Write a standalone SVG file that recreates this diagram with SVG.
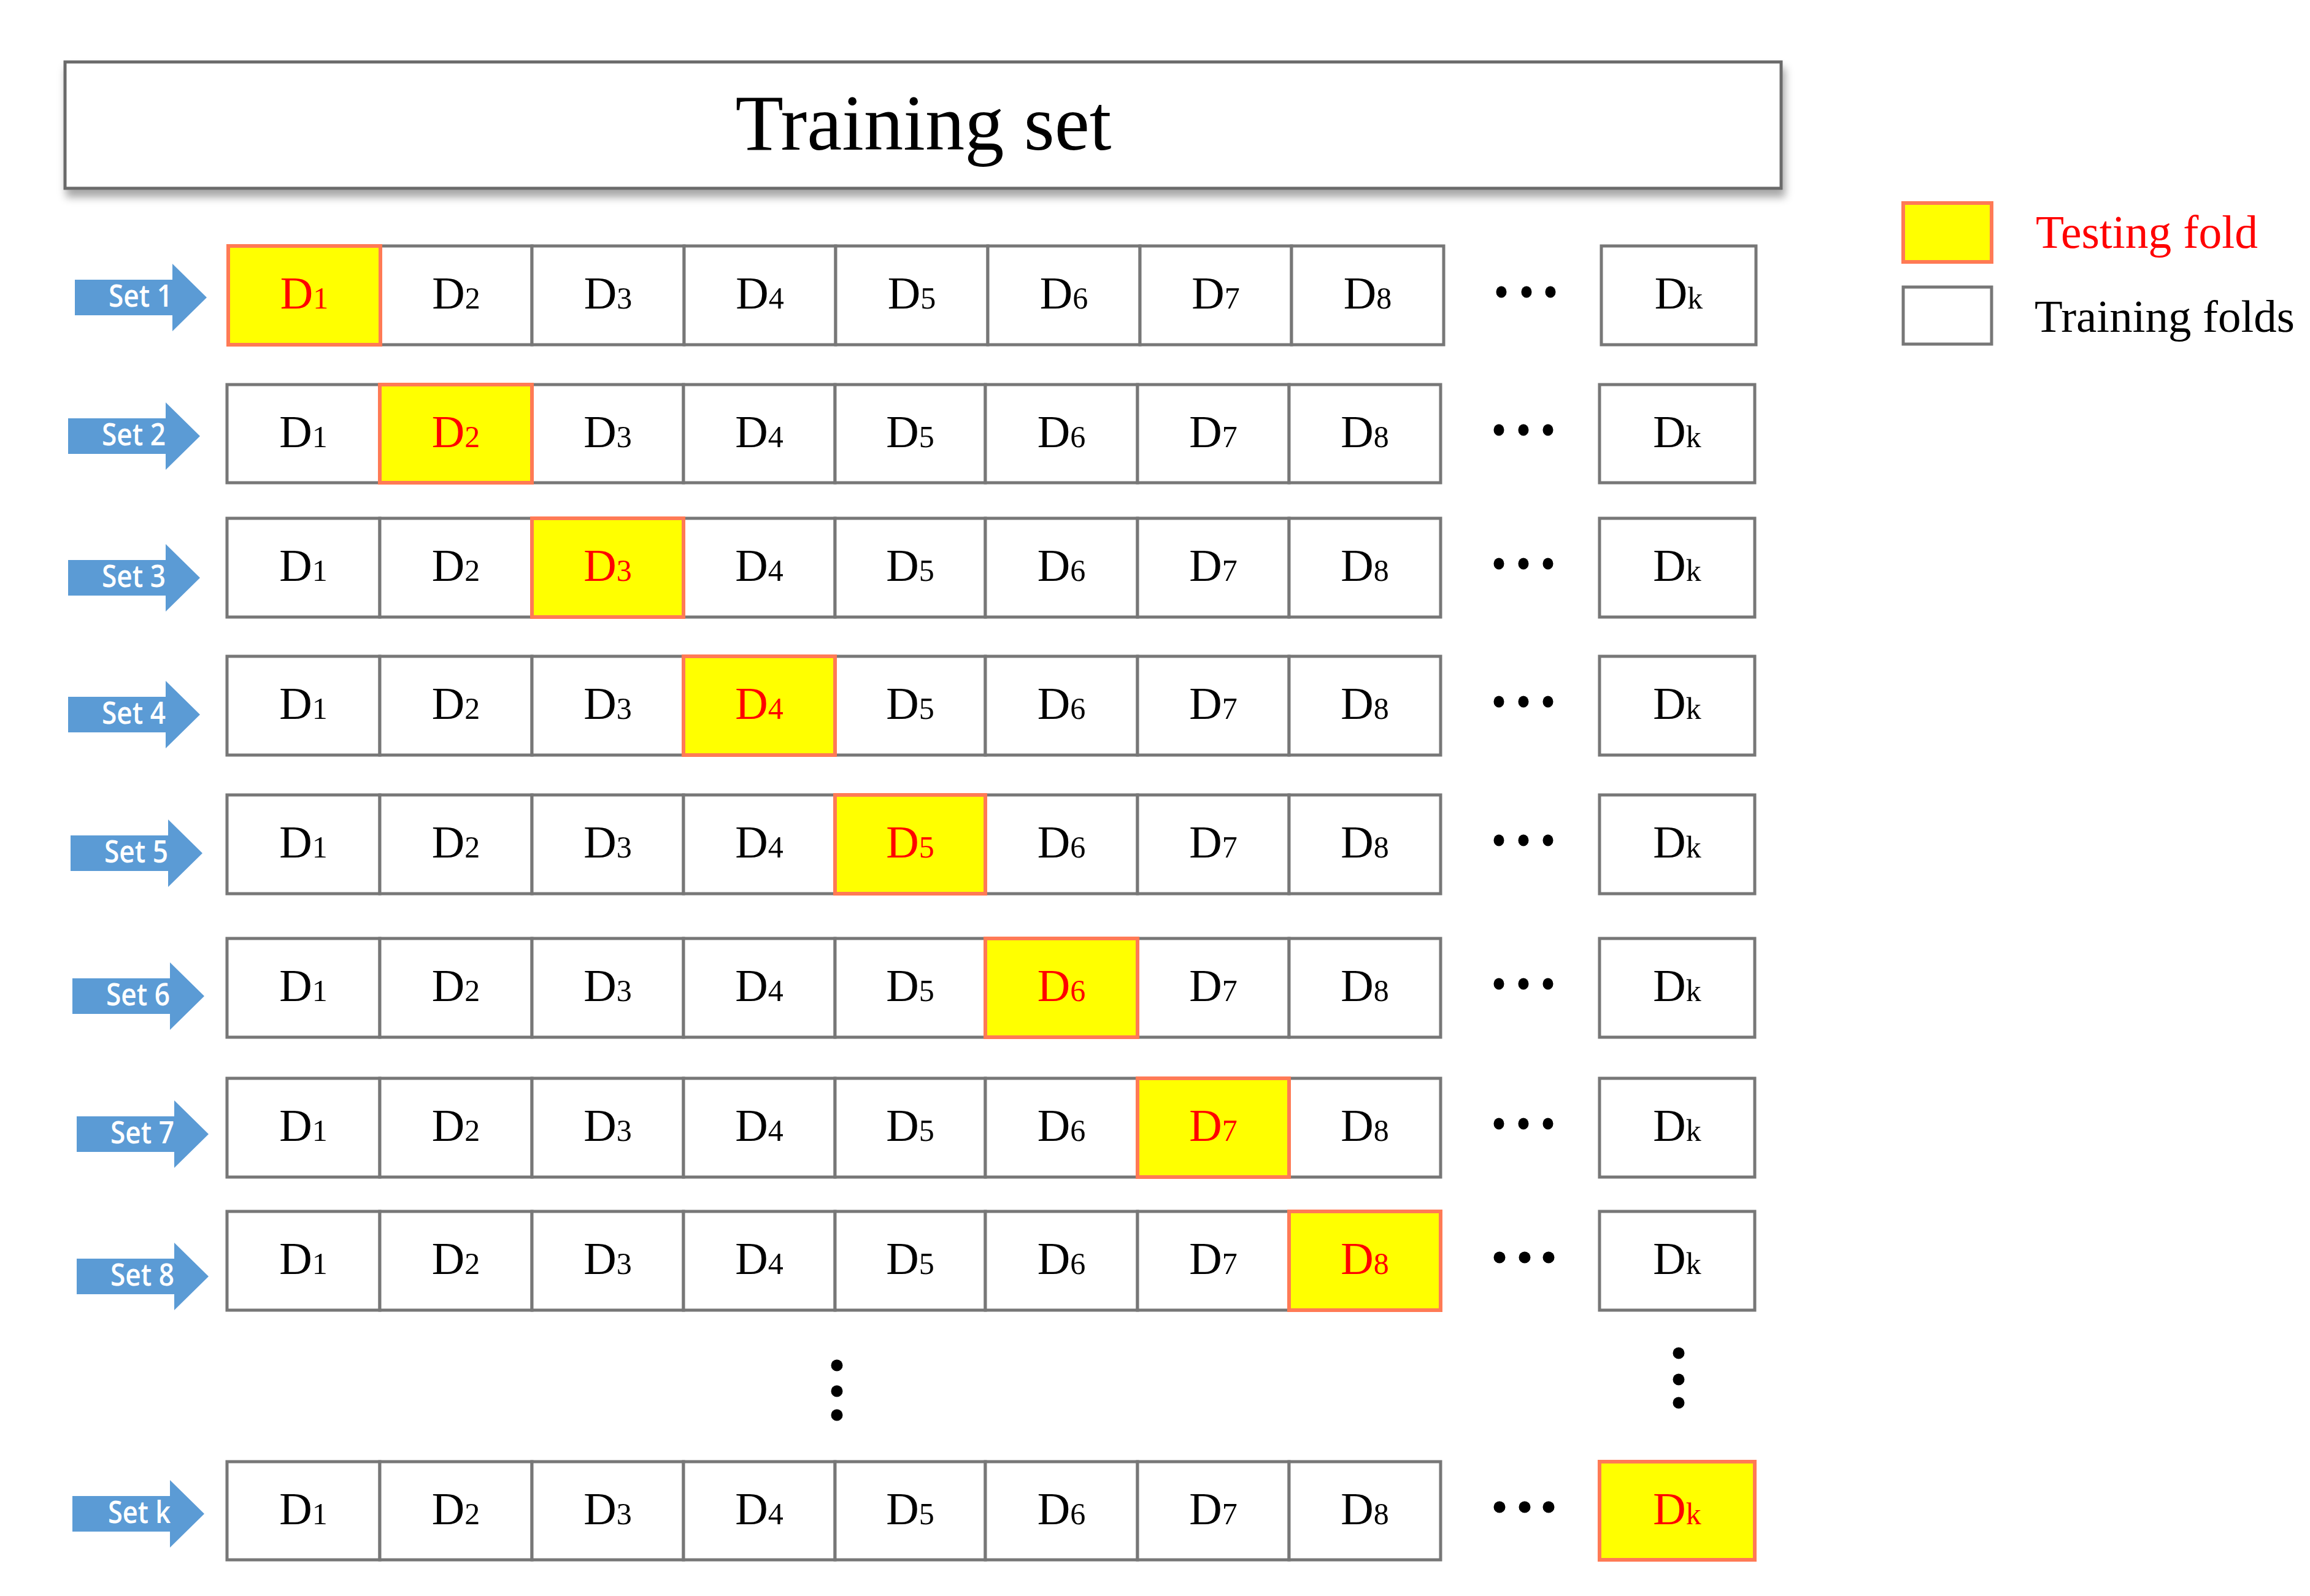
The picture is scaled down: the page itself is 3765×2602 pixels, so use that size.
<svg xmlns="http://www.w3.org/2000/svg" xmlns:xlink="http://www.w3.org/1999/xlink" width="3765" height="2602" viewBox="0 0 3765 2602">
<style>
.c{fill:#fff;stroke:#777;stroke-width:5}
.t{fill:#ffff00;stroke:#ff7a55;stroke-width:6}
.d{font-family:"Liberation Serif","Times New Roman",serif;font-size:74px;text-anchor:middle;fill:#000}
.dr{fill:#ff0000}
.s{font-size:50px}
.set{font-family:"Open Sans","Liberation Sans",sans-serif;font-size:50px;font-weight:600;fill:#fff;text-anchor:end}
.arr{fill:#5b9bd5}
.dot{fill:#000}
</style>
<defs>
<filter id="sh" x="-5%" y="-20%" width="110%" height="150%">
<feDropShadow dx="4" dy="12" stdDeviation="7" flood-color="#000" flood-opacity="0.35"/>
</filter>
<path id="arrow" d="M0,-29 H159 V-55 L215,0 L159,55 V29 H0 Z"/>
</defs>
<rect width="3765" height="2602" fill="#fff"/>

<g id="title">
<rect x="106" y="101" width="2797" height="206" fill="#fff" stroke="#6b6b6b" stroke-width="5" filter="url(#sh)"/>
<text x="1505" y="244" font-family="Liberation Serif, Times New Roman, serif" font-size="130" text-anchor="middle" textLength="613" lengthAdjust="spacingAndGlyphs">Training set</text>
</g>

<g id="legend">
<g id="legend-testing">
<rect class="t" x="3102" y="331" width="144" height="96"/>
<text x="3318" y="404" font-family="Liberation Serif, Times New Roman, serif" font-size="76" fill="#ff0000" textLength="362" lengthAdjust="spacingAndGlyphs">Testing fold</text>
</g>
<g id="legend-training">
<rect class="c" x="3102" y="468" width="144" height="93"/>
<text x="3316" y="541" font-family="Liberation Serif, Times New Roman, serif" font-size="75" fill="#000" textLength="424" lengthAdjust="spacingAndGlyphs">Training folds</text>
</g>
</g>

<g id="set-labels">
<g id="set1"><use href="#arrow" class="arr" x="122" y="485"/><text class="set" x="281" y="500" textLength="104" lengthAdjust="spacingAndGlyphs">Set 1</text></g>
<g id="set2"><use href="#arrow" class="arr" x="111" y="711"/><text class="set" x="270" y="726" textLength="104" lengthAdjust="spacingAndGlyphs">Set 2</text></g>
<g id="set3"><use href="#arrow" class="arr" x="111" y="942"/><text class="set" x="270" y="957" textLength="104" lengthAdjust="spacingAndGlyphs">Set 3</text></g>
<g id="set4"><use href="#arrow" class="arr" x="111" y="1165"/><text class="set" x="270" y="1180" textLength="104" lengthAdjust="spacingAndGlyphs">Set 4</text></g>
<g id="set5"><use href="#arrow" class="arr" x="115" y="1391"/><text class="set" x="274" y="1406" textLength="104" lengthAdjust="spacingAndGlyphs">Set 5</text></g>
<g id="set6"><use href="#arrow" class="arr" x="118" y="1624"/><text class="set" x="277" y="1639" textLength="104" lengthAdjust="spacingAndGlyphs">Set 6</text></g>
<g id="set7"><use href="#arrow" class="arr" x="125" y="1849"/><text class="set" x="284" y="1864" textLength="104" lengthAdjust="spacingAndGlyphs">Set 7</text></g>
<g id="set8"><use href="#arrow" class="arr" x="125" y="2081"/><text class="set" x="284" y="2096" textLength="104" lengthAdjust="spacingAndGlyphs">Set 8</text></g>
<g id="setk"><use href="#arrow" class="arr" x="118" y="2468"/><text class="set" x="278" y="2483" textLength="102" lengthAdjust="spacingAndGlyphs">Set k</text></g>
</g>

<g id="row1" transform="translate(0,401)">
<g id="r1-d2"><rect class="c" x="620" y="0" width="247" height="161"/><text class="d" x="743.5" y="102">D<tspan class="s">2</tspan></text></g>
<g id="r1-d3"><rect class="c" x="867" y="0" width="248" height="161"/><text class="d" x="991" y="102">D<tspan class="s">3</tspan></text></g>
<g id="r1-d4"><rect class="c" x="1115" y="0" width="247" height="161"/><text class="d" x="1238.5" y="102">D<tspan class="s">4</tspan></text></g>
<g id="r1-d5"><rect class="c" x="1362" y="0" width="248" height="161"/><text class="d" x="1486" y="102">D<tspan class="s">5</tspan></text></g>
<g id="r1-d6"><rect class="c" x="1610" y="0" width="248" height="161"/><text class="d" x="1734" y="102">D<tspan class="s">6</tspan></text></g>
<g id="r1-d7"><rect class="c" x="1858" y="0" width="247" height="161"/><text class="d" x="1981.5" y="102">D<tspan class="s">7</tspan></text></g>
<g id="r1-d8"><rect class="c" x="2105" y="0" width="248" height="161"/><text class="d" x="2229" y="102">D<tspan class="s">8</tspan></text></g>
<g id="r1-dk"><rect class="c" x="2610" y="0" width="252" height="161"/><text class="d" x="2736" y="102">D<tspan class="s">k</tspan></text></g>
<g id="r1-d1"><rect class="t" x="372" y="0" width="248" height="161"/><text class="d dr" x="496" y="102">D<tspan class="s">1</tspan></text></g>
</g>

<g id="row2" transform="translate(0,627)">
<g id="r2-d1"><rect class="c" x="370" y="0" width="249" height="160"/><text class="d" x="494.5" y="102">D<tspan class="s">1</tspan></text></g>
<g id="r2-d3"><rect class="c" x="867" y="0" width="247" height="160"/><text class="d" x="990.5" y="102">D<tspan class="s">3</tspan></text></g>
<g id="r2-d4"><rect class="c" x="1114" y="0" width="247" height="160"/><text class="d" x="1237.5" y="102">D<tspan class="s">4</tspan></text></g>
<g id="r2-d5"><rect class="c" x="1361" y="0" width="245" height="160"/><text class="d" x="1483.5" y="102">D<tspan class="s">5</tspan></text></g>
<g id="r2-d6"><rect class="c" x="1606" y="0" width="248" height="160"/><text class="d" x="1730" y="102">D<tspan class="s">6</tspan></text></g>
<g id="r2-d7"><rect class="c" x="1854" y="0" width="247" height="160"/><text class="d" x="1977.5" y="102">D<tspan class="s">7</tspan></text></g>
<g id="r2-d8"><rect class="c" x="2101" y="0" width="247" height="160"/><text class="d" x="2224.5" y="102">D<tspan class="s">8</tspan></text></g>
<g id="r2-dk"><rect class="c" x="2607" y="0" width="253" height="160"/><text class="d" x="2733.5" y="102">D<tspan class="s">k</tspan></text></g>
<g id="r2-d2"><rect class="t" x="619" y="0" width="248" height="160"/><text class="d dr" x="743" y="102">D<tspan class="s">2</tspan></text></g>
</g>

<g id="row3" transform="translate(0,845)">
<g id="r3-d1"><rect class="c" x="370" y="0" width="249" height="161"/><text class="d" x="494.5" y="102">D<tspan class="s">1</tspan></text></g>
<g id="r3-d2"><rect class="c" x="619" y="0" width="248" height="161"/><text class="d" x="743" y="102">D<tspan class="s">2</tspan></text></g>
<g id="r3-d4"><rect class="c" x="1114" y="0" width="247" height="161"/><text class="d" x="1237.5" y="102">D<tspan class="s">4</tspan></text></g>
<g id="r3-d5"><rect class="c" x="1361" y="0" width="245" height="161"/><text class="d" x="1483.5" y="102">D<tspan class="s">5</tspan></text></g>
<g id="r3-d6"><rect class="c" x="1606" y="0" width="248" height="161"/><text class="d" x="1730" y="102">D<tspan class="s">6</tspan></text></g>
<g id="r3-d7"><rect class="c" x="1854" y="0" width="247" height="161"/><text class="d" x="1977.5" y="102">D<tspan class="s">7</tspan></text></g>
<g id="r3-d8"><rect class="c" x="2101" y="0" width="247" height="161"/><text class="d" x="2224.5" y="102">D<tspan class="s">8</tspan></text></g>
<g id="r3-dk"><rect class="c" x="2607" y="0" width="253" height="161"/><text class="d" x="2733.5" y="102">D<tspan class="s">k</tspan></text></g>
<g id="r3-d3"><rect class="t" x="867" y="0" width="247" height="161"/><text class="d dr" x="990.5" y="102">D<tspan class="s">3</tspan></text></g>
</g>

<g id="row4" transform="translate(0,1070)">
<g id="r4-d1"><rect class="c" x="370" y="0" width="249" height="161"/><text class="d" x="494.5" y="102">D<tspan class="s">1</tspan></text></g>
<g id="r4-d2"><rect class="c" x="619" y="0" width="248" height="161"/><text class="d" x="743" y="102">D<tspan class="s">2</tspan></text></g>
<g id="r4-d3"><rect class="c" x="867" y="0" width="247" height="161"/><text class="d" x="990.5" y="102">D<tspan class="s">3</tspan></text></g>
<g id="r4-d5"><rect class="c" x="1361" y="0" width="245" height="161"/><text class="d" x="1483.5" y="102">D<tspan class="s">5</tspan></text></g>
<g id="r4-d6"><rect class="c" x="1606" y="0" width="248" height="161"/><text class="d" x="1730" y="102">D<tspan class="s">6</tspan></text></g>
<g id="r4-d7"><rect class="c" x="1854" y="0" width="247" height="161"/><text class="d" x="1977.5" y="102">D<tspan class="s">7</tspan></text></g>
<g id="r4-d8"><rect class="c" x="2101" y="0" width="247" height="161"/><text class="d" x="2224.5" y="102">D<tspan class="s">8</tspan></text></g>
<g id="r4-dk"><rect class="c" x="2607" y="0" width="253" height="161"/><text class="d" x="2733.5" y="102">D<tspan class="s">k</tspan></text></g>
<g id="r4-d4"><rect class="t" x="1114" y="0" width="247" height="161"/><text class="d dr" x="1237.5" y="102">D<tspan class="s">4</tspan></text></g>
</g>

<g id="row5" transform="translate(0,1296)">
<g id="r5-d1"><rect class="c" x="370" y="0" width="249" height="161"/><text class="d" x="494.5" y="102">D<tspan class="s">1</tspan></text></g>
<g id="r5-d2"><rect class="c" x="619" y="0" width="248" height="161"/><text class="d" x="743" y="102">D<tspan class="s">2</tspan></text></g>
<g id="r5-d3"><rect class="c" x="867" y="0" width="247" height="161"/><text class="d" x="990.5" y="102">D<tspan class="s">3</tspan></text></g>
<g id="r5-d4"><rect class="c" x="1114" y="0" width="247" height="161"/><text class="d" x="1237.5" y="102">D<tspan class="s">4</tspan></text></g>
<g id="r5-d6"><rect class="c" x="1606" y="0" width="248" height="161"/><text class="d" x="1730" y="102">D<tspan class="s">6</tspan></text></g>
<g id="r5-d7"><rect class="c" x="1854" y="0" width="247" height="161"/><text class="d" x="1977.5" y="102">D<tspan class="s">7</tspan></text></g>
<g id="r5-d8"><rect class="c" x="2101" y="0" width="247" height="161"/><text class="d" x="2224.5" y="102">D<tspan class="s">8</tspan></text></g>
<g id="r5-dk"><rect class="c" x="2607" y="0" width="253" height="161"/><text class="d" x="2733.5" y="102">D<tspan class="s">k</tspan></text></g>
<g id="r5-d5"><rect class="t" x="1361" y="0" width="245" height="161"/><text class="d dr" x="1483.5" y="102">D<tspan class="s">5</tspan></text></g>
</g>

<g id="row6" transform="translate(0,1530)">
<g id="r6-d1"><rect class="c" x="370" y="0" width="249" height="161"/><text class="d" x="494.5" y="102">D<tspan class="s">1</tspan></text></g>
<g id="r6-d2"><rect class="c" x="619" y="0" width="248" height="161"/><text class="d" x="743" y="102">D<tspan class="s">2</tspan></text></g>
<g id="r6-d3"><rect class="c" x="867" y="0" width="247" height="161"/><text class="d" x="990.5" y="102">D<tspan class="s">3</tspan></text></g>
<g id="r6-d4"><rect class="c" x="1114" y="0" width="247" height="161"/><text class="d" x="1237.5" y="102">D<tspan class="s">4</tspan></text></g>
<g id="r6-d5"><rect class="c" x="1361" y="0" width="245" height="161"/><text class="d" x="1483.5" y="102">D<tspan class="s">5</tspan></text></g>
<g id="r6-d7"><rect class="c" x="1854" y="0" width="247" height="161"/><text class="d" x="1977.5" y="102">D<tspan class="s">7</tspan></text></g>
<g id="r6-d8"><rect class="c" x="2101" y="0" width="247" height="161"/><text class="d" x="2224.5" y="102">D<tspan class="s">8</tspan></text></g>
<g id="r6-dk"><rect class="c" x="2607" y="0" width="253" height="161"/><text class="d" x="2733.5" y="102">D<tspan class="s">k</tspan></text></g>
<g id="r6-d6"><rect class="t" x="1606" y="0" width="248" height="161"/><text class="d dr" x="1730" y="102">D<tspan class="s">6</tspan></text></g>
</g>

<g id="row7" transform="translate(0,1758)">
<g id="r7-d1"><rect class="c" x="370" y="0" width="249" height="161"/><text class="d" x="494.5" y="102">D<tspan class="s">1</tspan></text></g>
<g id="r7-d2"><rect class="c" x="619" y="0" width="248" height="161"/><text class="d" x="743" y="102">D<tspan class="s">2</tspan></text></g>
<g id="r7-d3"><rect class="c" x="867" y="0" width="247" height="161"/><text class="d" x="990.5" y="102">D<tspan class="s">3</tspan></text></g>
<g id="r7-d4"><rect class="c" x="1114" y="0" width="247" height="161"/><text class="d" x="1237.5" y="102">D<tspan class="s">4</tspan></text></g>
<g id="r7-d5"><rect class="c" x="1361" y="0" width="245" height="161"/><text class="d" x="1483.5" y="102">D<tspan class="s">5</tspan></text></g>
<g id="r7-d6"><rect class="c" x="1606" y="0" width="248" height="161"/><text class="d" x="1730" y="102">D<tspan class="s">6</tspan></text></g>
<g id="r7-d8"><rect class="c" x="2101" y="0" width="247" height="161"/><text class="d" x="2224.5" y="102">D<tspan class="s">8</tspan></text></g>
<g id="r7-dk"><rect class="c" x="2607" y="0" width="253" height="161"/><text class="d" x="2733.5" y="102">D<tspan class="s">k</tspan></text></g>
<g id="r7-d7"><rect class="t" x="1854" y="0" width="247" height="161"/><text class="d dr" x="1977.5" y="102">D<tspan class="s">7</tspan></text></g>
</g>

<g id="row8" transform="translate(0,1975)">
<g id="r8-d1"><rect class="c" x="370" y="0" width="249" height="161"/><text class="d" x="494.5" y="102">D<tspan class="s">1</tspan></text></g>
<g id="r8-d2"><rect class="c" x="619" y="0" width="248" height="161"/><text class="d" x="743" y="102">D<tspan class="s">2</tspan></text></g>
<g id="r8-d3"><rect class="c" x="867" y="0" width="247" height="161"/><text class="d" x="990.5" y="102">D<tspan class="s">3</tspan></text></g>
<g id="r8-d4"><rect class="c" x="1114" y="0" width="247" height="161"/><text class="d" x="1237.5" y="102">D<tspan class="s">4</tspan></text></g>
<g id="r8-d5"><rect class="c" x="1361" y="0" width="245" height="161"/><text class="d" x="1483.5" y="102">D<tspan class="s">5</tspan></text></g>
<g id="r8-d6"><rect class="c" x="1606" y="0" width="248" height="161"/><text class="d" x="1730" y="102">D<tspan class="s">6</tspan></text></g>
<g id="r8-d7"><rect class="c" x="1854" y="0" width="247" height="161"/><text class="d" x="1977.5" y="102">D<tspan class="s">7</tspan></text></g>
<g id="r8-dk"><rect class="c" x="2607" y="0" width="253" height="161"/><text class="d" x="2733.5" y="102">D<tspan class="s">k</tspan></text></g>
<g id="r8-d8"><rect class="t" x="2101" y="0" width="247" height="161"/><text class="d dr" x="2224.5" y="102">D<tspan class="s">8</tspan></text></g>
</g>

<g id="rowk" transform="translate(0,2383)">
<g id="rk-d1"><rect class="c" x="370" y="0" width="249" height="160"/><text class="d" x="494.5" y="102">D<tspan class="s">1</tspan></text></g>
<g id="rk-d2"><rect class="c" x="619" y="0" width="248" height="160"/><text class="d" x="743" y="102">D<tspan class="s">2</tspan></text></g>
<g id="rk-d3"><rect class="c" x="867" y="0" width="247" height="160"/><text class="d" x="990.5" y="102">D<tspan class="s">3</tspan></text></g>
<g id="rk-d4"><rect class="c" x="1114" y="0" width="247" height="160"/><text class="d" x="1237.5" y="102">D<tspan class="s">4</tspan></text></g>
<g id="rk-d5"><rect class="c" x="1361" y="0" width="245" height="160"/><text class="d" x="1483.5" y="102">D<tspan class="s">5</tspan></text></g>
<g id="rk-d6"><rect class="c" x="1606" y="0" width="248" height="160"/><text class="d" x="1730" y="102">D<tspan class="s">6</tspan></text></g>
<g id="rk-d7"><rect class="c" x="1854" y="0" width="247" height="160"/><text class="d" x="1977.5" y="102">D<tspan class="s">7</tspan></text></g>
<g id="rk-d8"><rect class="c" x="2101" y="0" width="247" height="160"/><text class="d" x="2224.5" y="102">D<tspan class="s">8</tspan></text></g>
<g id="rk-dk"><rect class="t" x="2607" y="0" width="253" height="160"/><text class="d dr" x="2733.5" y="102">D<tspan class="s">k</tspan></text></g>
</g>

<g id="ellipses">
<g id="dots-row1"><ellipse class="dot" cx="2447" cy="476" rx="8.5" ry="9.5"/><ellipse class="dot" cx="2488" cy="476" rx="8.5" ry="9.5"/><ellipse class="dot" cx="2527" cy="476" rx="8.5" ry="9.5"/></g>
<g id="dots-row2"><ellipse class="dot" cx="2443" cy="701" rx="8.5" ry="9.5"/><ellipse class="dot" cx="2483" cy="701" rx="8.5" ry="9.5"/><ellipse class="dot" cx="2523" cy="701" rx="8.5" ry="9.5"/></g>
<g id="dots-row3"><ellipse class="dot" cx="2443" cy="919" rx="8.5" ry="9.5"/><ellipse class="dot" cx="2483" cy="919" rx="8.5" ry="9.5"/><ellipse class="dot" cx="2523" cy="919" rx="8.5" ry="9.5"/></g>
<g id="dots-row4"><ellipse class="dot" cx="2443" cy="1144" rx="8.5" ry="9.5"/><ellipse class="dot" cx="2483" cy="1144" rx="8.5" ry="9.5"/><ellipse class="dot" cx="2523" cy="1144" rx="8.5" ry="9.5"/></g>
<g id="dots-row5"><ellipse class="dot" cx="2443" cy="1370" rx="8.5" ry="9.5"/><ellipse class="dot" cx="2483" cy="1370" rx="8.5" ry="9.5"/><ellipse class="dot" cx="2523" cy="1370" rx="8.5" ry="9.5"/></g>
<g id="dots-row6"><ellipse class="dot" cx="2443" cy="1604" rx="8.5" ry="9.5"/><ellipse class="dot" cx="2483" cy="1604" rx="8.5" ry="9.5"/><ellipse class="dot" cx="2523" cy="1604" rx="8.5" ry="9.5"/></g>
<g id="dots-row7"><ellipse class="dot" cx="2443" cy="1832" rx="8.5" ry="9.5"/><ellipse class="dot" cx="2483" cy="1832" rx="8.5" ry="9.5"/><ellipse class="dot" cx="2523" cy="1832" rx="8.5" ry="9.5"/></g>
<g id="dots-row8"><circle class="dot" cx="2444" cy="2050" r="9.5"/><circle class="dot" cx="2485" cy="2050" r="9.5"/><circle class="dot" cx="2524" cy="2050" r="9.5"/></g>
<g id="dots-rowk"><circle class="dot" cx="2444" cy="2457" r="9.5"/><circle class="dot" cx="2485" cy="2457" r="9.5"/><circle class="dot" cx="2524" cy="2457" r="9.5"/></g>
<g id="dots-vert-mid"><circle class="dot" cx="1364" cy="2226" r="9.5"/><circle class="dot" cx="1364" cy="2268" r="9.5"/><circle class="dot" cx="1364" cy="2307" r="9.5"/></g>
<g id="dots-vert-right"><circle class="dot" cx="2736" cy="2206" r="9.5"/><circle class="dot" cx="2736" cy="2249" r="9.5"/><circle class="dot" cx="2736" cy="2287" r="9.5"/></g>
</g>

<g id="connectors"/>
</svg>
